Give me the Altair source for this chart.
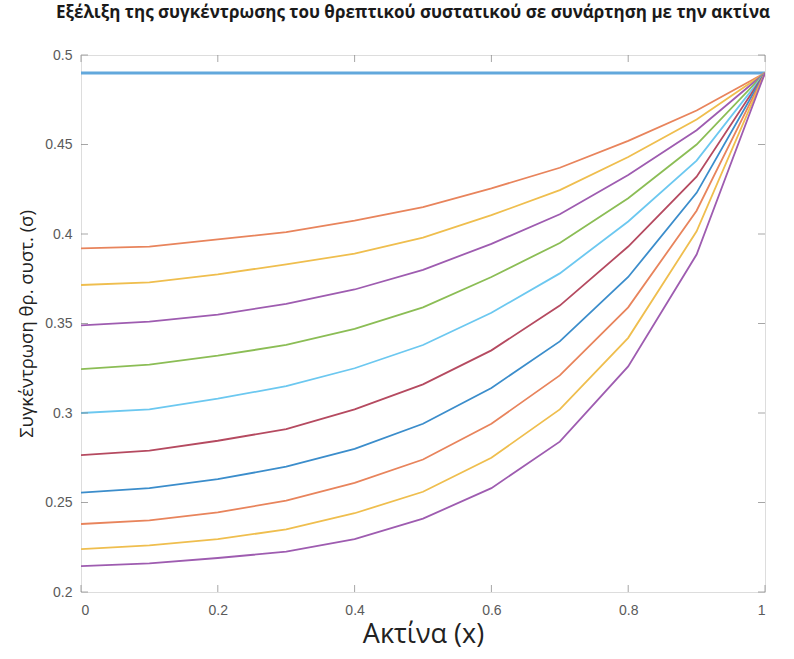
import altair as alt
import pandas as pd

# ---- data ----
x_vals = [0.0, 0.1, 0.2, 0.3, 0.4, 0.5, 0.6, 0.7, 0.8, 0.9, 1.0]

s00 = [0.49, 0.49, 0.49, 0.49, 0.49, 0.49, 0.49, 0.49, 0.49, 0.49, 0.49]
s01 = [0.392, 0.393, 0.397, 0.401, 0.4075, 0.415, 0.4255, 0.437, 0.452, 0.469, 0.49]
s02 = [0.3715, 0.373, 0.3775, 0.383, 0.389, 0.398, 0.4105, 0.4245, 0.443, 0.464, 0.49]
s03 = [0.349, 0.351, 0.355, 0.361, 0.369, 0.380, 0.3945, 0.411, 0.433, 0.458, 0.49]
s04 = [0.3245, 0.327, 0.332, 0.338, 0.347, 0.359, 0.376, 0.395, 0.420, 0.450, 0.49]
s05 = [0.300, 0.302, 0.308, 0.315, 0.325, 0.338, 0.356, 0.378, 0.407, 0.441, 0.49]
s06 = [0.2765, 0.279, 0.2845, 0.291, 0.302, 0.316, 0.335, 0.360, 0.393, 0.432, 0.49]
s07 = [0.2555, 0.258, 0.263, 0.270, 0.280, 0.294, 0.314, 0.340, 0.376, 0.423, 0.49]
s08 = [0.238, 0.240, 0.2445, 0.251, 0.261, 0.274, 0.294, 0.321, 0.359, 0.413, 0.49]
s09 = [0.224, 0.226, 0.2295, 0.235, 0.244, 0.256, 0.275, 0.302, 0.342, 0.4015, 0.49]
s10 = [0.2145, 0.216, 0.219, 0.2225, 0.2295, 0.241, 0.258, 0.284, 0.326, 0.3885, 0.49]

series = [s00, s01, s02, s03, s04, s05, s06, s07, s08, s09, s10]
series_names = ["c%02d" % i for i in range(len(series))]
series_colors = ["#62A8DC", "#E8845C", "#EFBE4E", "#9E5CB0", "#8BBD55",
                 "#6CC8F0", "#B54A60", "#3B8DCB", "#E8845C", "#EFBE4E", "#9E5CB0"]
series_widths = [3.0] + [1.8] * 10

x_ticks = [0.0, 0.2, 0.4, 0.6, 0.8, 1.0]
y_ticks = [0.2, 0.25, 0.3, 0.35, 0.4, 0.45, 0.5]

title_text = "Εξέλιξη της συγκέντρωσης του θρεπτικού συστατικού σε συνάρτηση με την ακτίνα"
x_title = "Ακτίνα (x)"
y_title = "Συγκέντρωση θρ. συστ. (σ)"

rows = []
for name, vals, w in zip(series_names, series, series_widths):
    for xv, yv in zip(x_vals, vals):
        rows.append({"x": xv, "y": yv, "s": name, "w": w})
df = pd.DataFrame(rows)

W, H = 684, 537
axis_gray = "#808080"

xs = alt.Scale(domain=[0, 1], nice=False, zero=False)
ys = alt.Scale(domain=[0.2, 0.5], nice=False, zero=False)

lines = alt.Chart(df).mark_line(clip=True).encode(
    x=alt.X("x:Q", scale=xs,
            axis=alt.Axis(values=x_ticks, format=".1~f", title=x_title,
                          tickSize=0, domain=False, grid=False,
                          labelFontSize=14, labelColor="#5a5a5a", labelPadding=11,
                          labelFont="Liberation Sans",
                          titleFontSize=27, titleFontWeight="normal", titleColor="#222222",
                          titleFont="Open Sans", titlePadding=4)),
    y=alt.Y("y:Q", scale=ys,
            axis=alt.Axis(values=y_ticks, format=".2~f", title=y_title,
                          tickSize=0, domain=False, grid=False,
                          labelFontSize=14, labelColor="#5a5a5a", labelPadding=9,
                          labelFont="Liberation Sans",
                          titleFontSize=18.5, titleFontWeight="normal", titleColor="#222222",
                          titleFont="Open Sans", titlePadding=8)),
    color=alt.Color("s:N", scale=alt.Scale(domain=series_names, range=series_colors), legend=None),
    strokeWidth=alt.StrokeWidth("w:Q", scale=None),
    order=alt.Order("x:Q"),
)

ydf = pd.DataFrame({"v": y_ticks})
xdf = pd.DataFrame({"v": x_ticks})

yt_left = alt.Chart(ydf).mark_tick(orient="horizontal", size=7, thickness=1, color=axis_gray).encode(
    y=alt.Y("v:Q", scale=ys), x=alt.value(3.5))
yt_right = alt.Chart(ydf).mark_tick(orient="horizontal", size=7, thickness=1, color=axis_gray).encode(
    y=alt.Y("v:Q", scale=ys), x=alt.value(W - 3.5))
xt_bot = alt.Chart(xdf).mark_tick(orient="vertical", size=7, thickness=1, color=axis_gray).encode(
    x=alt.X("v:Q", scale=xs), y=alt.value(H - 3.5))
xt_top = alt.Chart(xdf).mark_tick(orient="vertical", size=7, thickness=1, color=axis_gray).encode(
    x=alt.X("v:Q", scale=xs), y=alt.value(3.5))

chart = alt.layer(lines, yt_left, yt_right, xt_bot, xt_top).properties(
    width=W, height=H,
    autosize=alt.AutoSizeParams(type="none"),
    padding={"left": 81, "top": 55, "right": 29, "bottom": 67},
    title=alt.TitleParams(title_text, fontSize=17, font="Open Sans", fontWeight="bold",
                          color="#1a1a1a", anchor="middle", dx=-10, offset=26),
).configure_view(stroke=axis_gray, strokeWidth=1.5).configure(background="white")

chart.save("out.html", embed_options={"renderer": "svg", "actions": False})
